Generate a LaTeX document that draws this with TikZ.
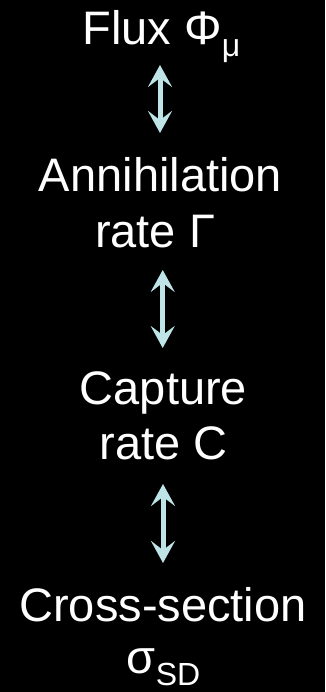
\documentclass[tikz,border=0pt]{standalone}
\usepackage{fontspec}
\setmainfont{Liberation Sans}
\usetikzlibrary{arrows.meta}
\definecolor{arrowcol}{RGB}{190,228,232}
\begin{document}
\begin{tikzpicture}[x=1pt,y=1pt,
  lbl/.style={anchor=base,inner sep=0pt,text=white,font=\fontsize{47}{55}\selectfont},
  dblarrow/.style={draw=arrowcol,line width=5pt,
    {Stealth[length=22pt,width=24pt,inset=9pt]}-{Stealth[length=22pt,width=24pt,inset=9pt]}}]
\fill[black] (0,0) rectangle (325,692);
\useasboundingbox (0,0) rectangle (325,692);
\newcommand{\sbs}[1]{\raisebox{-12pt}{\fontsize{32}{32}\selectfont #1}}
\node[lbl] (flux) at (161.5,647) {Flux Φ\sbs{μ}};
\node[lbl] (ann) at (160.5,500) {Annihilation};
\node[lbl] (rateG) at (155,444) {rate Γ};
\node[lbl] (cap) at (163.5,287) {Capture};
\node[lbl] (rateC) at (163.5,232) {rate C};
\node[lbl] (cross) at (163,70) {Cross-section};
\node[lbl] (sigma) at (163.5,18) {σ\sbs{SD}};
\coordinate (a1t) at (160,627);
\coordinate (a1b) at (160,559);
\coordinate (a2t) at (162.7,422);
\coordinate (a2b) at (162.7,344);
\coordinate (a3t) at (163,208);
\coordinate (a3b) at (163,129);
\draw[dblarrow] (a1t) -- (a1b);
\draw[dblarrow] (a2t) -- (a2b);
\draw[dblarrow] (a3t) -- (a3b);
\end{tikzpicture}
\end{document}
